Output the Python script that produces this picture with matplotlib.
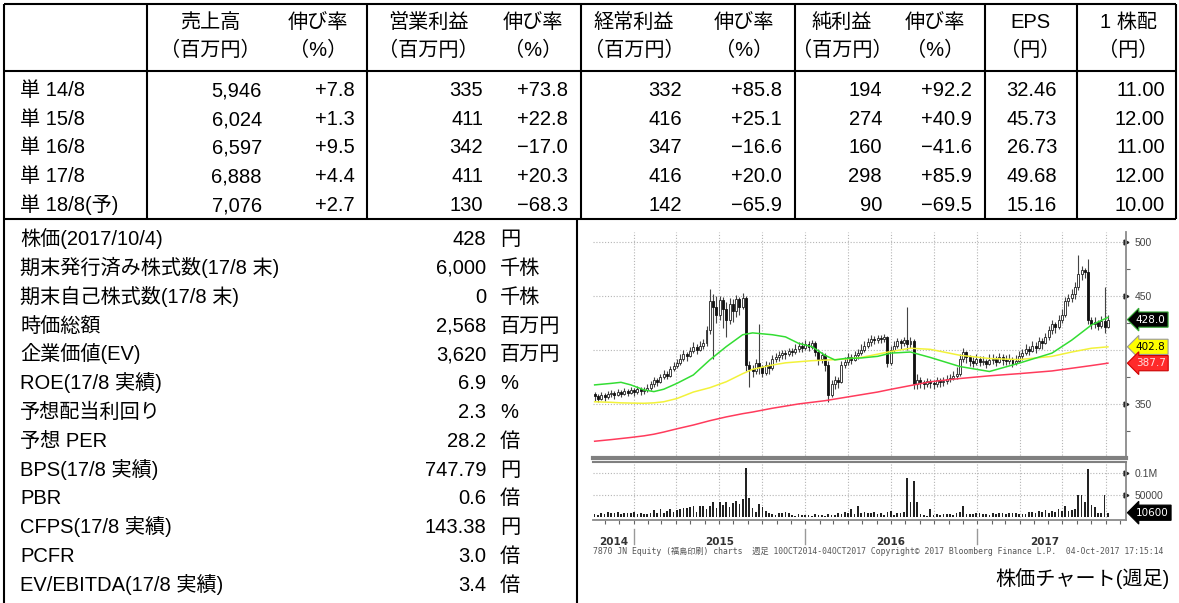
"""福島印刷 業績表 + 株価チャート(週足)"""
import numpy as np
import pandas as pd
import matplotlib
matplotlib.use('Agg')
import matplotlib.pyplot as plt
import matplotlib.dates as mdates

plt.rcParams['font.family'] = ['Liberation Sans', 'Noto Sans CJK JP', 'DejaVu Sans']

# ---- 業績表 ----
periods = ['単 14/8', '単 15/8', '単 16/8', '単 17/8', '単 18/8(予)']
head_top = ['売上高', '伸び率', '営業利益', '伸び率', '経常利益', '伸び率', '純利益', '伸び率', 'EPS', '1 株配']
head_bot = ['（百万円）', '（%）', '（百万円）', '（%）', '（百万円）', '（%）', '（百万円）', '（%）', '（円）', '（円）']
sales = [5946, 6024, 6597, 6888, 7076]
sales_g = [7.8, 1.3, 9.5, 4.4, 2.7]
op_profit = [335, 411, 342, 411, 130]
op_g = [73.8, 22.8, -17.0, 20.3, -68.3]
ord_profit = [332, 416, 347, 416, 142]
ord_g = [85.8, 25.1, -16.6, 20.0, -65.9]
net_profit = [194, 274, 160, 298, 90]
net_g = [92.2, 40.9, -41.6, 85.9, -69.5]
eps = [32.46, 45.73, 26.73, 49.68, 15.16]
dps = [11.00, 12.00, 11.00, 12.00, 10.00]

# ---- 株価指標 ----
items = ['株価(2017/10/4)', '期末発行済み株式数(17/8 末)', '期末自己株式数(17/8 末)', '時価総額',
         '企業価値(EV)', 'ROE(17/8 実績)', '予想配当利回り', '予想 PER', 'BPS(17/8 実績)',
         'PBR', 'CFPS(17/8 実績)', 'PCFR', 'EV/EBITDA(17/8 実績)']
item_vals = ['428', '6,000', '0', '2,568', '3,620', '6.9', '2.3', '28.2', '747.79', '0.6', '143.38', '3.0', '3.4']
item_units = ['円', '千株', '千株', '百万円', '百万円', '%', '%', '倍', '円', '倍', '円', '倍', '倍']

# ---- 週足 (2014/10/10 〜 2017/10/4) ----
first_open = 359
close = [357, 355, 358, 356, 359, 360, 358, 361, 359, 362, 360, 363,
         361, 364, 362, 363, 365,
         368, 372, 370, 375, 378, 376, 382, 385, 388,
         392, 396, 394, 399, 403, 400, 404, 406,
         418, 445,
         440, 432, 446, 438, 428, 442, 436, 447, 440, 448,
         386,
         382, 380, 388, 384,
         379, 386, 383,
         392, 393, 395, 397, 396, 399, 398, 401,
         404, 402, 405, 403, 406,
         398, 392, 395, 386,
         358,
         368, 372, 370,
         386, 389, 393, 391, 395, 397, 400, 404, 407,
         410, 409, 411, 410, 412,
         388,
         400, 404, 408, 406, 409, 405, 408,
         368,
         372, 370, 368, 371, 369, 368, 372, 370, 371, 373, 374, 376, 378,
         392, 398,
         393, 390, 388, 392, 389, 390, 387, 391, 392, 389, 393, 391, 390, 392, 388, 390, 394,
         397, 401, 399, 404, 402, 408, 406, 412,
         418, 424, 421, 428, 432,
         445, 448, 452, 458,
         470, 474, 472,
         428,
         424, 426, 422, 427, 421, 428]
high = [361, 359, 361, 360, 362, 363, 362, 364, 363, 365, 364, 366,
        365, 367, 366, 366, 368,
        371, 375, 374, 378, 381, 380, 385, 389, 392,
        396, 400, 398, 403, 407, 405, 408, 410,
        422, 456,
        452, 450, 450, 449, 444, 448, 447, 451, 449, 453,
        450,
        390, 386, 392, 424,
        386, 390, 389,
        395, 397, 399, 400, 400, 402, 402, 405,
        407, 407, 409, 408, 409,
        408, 401, 398, 397,
        390,
        372, 376, 375,
        390, 393, 397, 396, 399, 401, 405, 408, 411,
        414, 413, 414, 414, 415,
        413,
        404, 408, 411, 410, 412, 440, 412,
        410,
        378, 375, 372, 374, 373, 372, 375, 374, 375, 377, 378, 380, 384,
        396, 402,
        399, 395, 393, 396, 394, 394, 392, 396, 396, 394, 397, 396, 395, 396, 393, 395, 399,
        401, 405, 404, 408, 407, 412, 411, 416,
        422, 428, 426, 432, 438,
        449, 452, 456, 463,
        488, 478, 476,
        484,
        430, 430, 428, 431, 458, 432]
low = [353, 352, 354, 353, 355, 356, 355, 357, 356, 358, 357, 359,
       357, 359, 358, 359, 361,
       363, 366, 367, 369, 373, 373, 375, 380, 383,
       386, 390, 390, 393, 397, 396, 399, 401,
       404, 415,
       392, 425, 428, 420, 412, 424, 426, 430, 432, 438,
       380,
       366, 375, 378, 378,
       375, 377, 378,
       381, 389, 390, 392, 392, 394, 394, 396,
       398, 398, 400, 399, 401,
       394, 386, 388, 380,
       352,
       356, 364, 365,
       369, 383, 386, 387, 390, 392, 395, 398, 402,
       404, 405, 406, 406, 407,
       384,
       386, 398, 402, 401, 404, 400, 402,
       364,
       364, 365, 364, 366, 365, 364, 366, 366, 367, 368, 370, 372, 373,
       376, 389,
       388, 385, 384, 386, 385, 386, 383, 386, 387, 385, 388, 386, 386, 387, 384, 386, 389,
       391, 395, 395, 398, 397, 401, 401, 405,
       409, 415, 416, 419, 425,
       430, 441, 444, 447,
       455, 465, 466,
       424,
       419, 420, 418, 420, 416, 420]
# 出来高(千株)
volume_k = [8, 6, 9, 7, 12, 10, 9, 13, 8, 11, 10, 9, 12, 7, 9, 8, 7, 9, 16, 10,
            19, 11, 14, 18, 12, 17, 20, 22, 21, 24, 26, 12, 25, 27, 18, 26,
            34, 22, 34, 28, 36, 24, 32, 38, 30, 41,
            112,
            45, 22, 12, 30,
            24, 14, 10, 8, 6, 11, 9, 12, 10, 6,
            4, 7, 6, 5, 6, 4, 7, 5, 6, 4, 8, 5,
            6, 9, 7, 12, 9, 18, 8, 27, 10, 12, 9,
            10, 12, 7, 9, 6, 13, 14, 6, 11, 9, 12,
            90, 34, 83, 34,
            7, 5, 3, 20, 6, 7, 6, 7, 8, 7, 6, 9,
            12, 25, 8, 7, 8, 10, 9, 7, 8, 6, 9, 8, 10, 9, 8, 11, 9, 10, 8,
            7, 8, 12, 13, 9, 14, 12, 16, 11, 15, 13, 18, 14,
            25, 15, 16, 18, 50, 50, 34, 109, 28, 24, 10, 9, 52, 10.6]

# 移動平均(読み取り値)
ma_weeks = [0, 5, 8, 11, 15, 18, 21, 25, 30, 35, 40, 45, 48, 54, 58, 62, 66, 70, 73, 76,
            81, 86, 90, 96, 102, 111, 120, 129, 139, 145, 151, 156]
ma_green = [367.6, 369, 370, 367.6, 363, 361.4, 363.6, 369, 376.8, 390.7, 403, 414, 415.7, 414,
            412, 406, 403, 395, 390.7, 392, 392.5, 394, 397, 398, 393, 384.6, 380, 387.7, 397,
            409, 423, 430]
ma_yellow = [352, 351.5, 351, 350.8, 350.6, 351, 352, 355, 361, 365, 370.5, 378, 382, 386, 388,
             389, 390, 390.5, 391, 391.5, 393, 396, 398.5, 401.5, 400.5, 395, 392, 391, 394,
             398, 401.5, 402.8]
ma_red = [315.5, 317, 318, 319, 320.5, 322, 324, 327, 330.5, 334.5, 338, 341, 342.5, 346, 348,
          350, 351.5, 353, 354.5, 356, 358.5, 361, 363.5, 367, 370.5, 373.5, 376, 378, 380.5,
          383, 385.5, 387.7]

W, H = 1179, 603
fig = plt.figure(figsize=(W / 100, H / 100), dpi=100)
base = fig.add_axes([0, 0, 1, 1])
base.set_xlim(0, W)
base.set_ylim(H, 0)
base.axis('off')

LW = 1.5
FS = 14.5
BL = 7.2  # 行中心からベースラインまで(px)
# 罫線
base.hlines([4, 71, 219], 4, 1176, color='black', lw=LW)
base.vlines([4, 147, 367, 581, 795, 985, 1077, 1176], 4, 219, color='black', lw=LW)
base.vlines([4, 577], 219, 603, color='black', lw=LW)

# ヘッダー
head_x = [210, 318, 428, 533, 634, 744, 842, 935, 1030, 1128]
for x, t, b in zip(head_x, head_top, head_bot):
    base.text(x, 21 + BL, t, ha='center', va='baseline', fontsize=FS)
    base.text(x, 49 + BL, b, ha='center', va='baseline', fontsize=FS)


def g(v):
    return f'{v:+.1f}'.replace('-', '−')


cols = [[f'{v:,}' for v in sales], [g(v) for v in sales_g],
        [f'{v:,}' for v in op_profit], [g(v) for v in op_g],
        [f'{v:,}' for v in ord_profit], [g(v) for v in ord_g],
        [f'{v:,}' for v in net_profit], [g(v) for v in net_g],
        [f'{v:.2f}' for v in eps], [f'{v:.2f}' for v in dps]]
col_right = [262, 355, 483, 568, 682, 782, 882, 972, 1057, 1165]
row_y = [89, 118, 146, 175, 204]
for i, p in enumerate(periods):
    base.text(20, row_y[i] + BL, p, ha='left', va='baseline', fontsize=FS)
    for xr, col in zip(col_right, cols):
        base.text(xr, row_y[i] + BL, col[i], ha='right', va='baseline', fontsize=FS)

for i, (lab, v, u) in enumerate(zip(items, item_vals, item_units)):
    y = 238 + 28.8 * i + BL
    base.text(20, y, lab, ha='left', va='baseline', fontsize=FS)
    base.text(486, y, v, ha='right', va='baseline', fontsize=FS)
    base.text(500, y, u, ha='left', va='baseline', fontsize=FS)

# ---- チャート ----
def fx(px):
    return px / W


def fy(py):
    return 1 - py / H


ax = fig.add_axes([fx(593), fy(458), fx(1126) - fx(593), fy(232) - fy(458)])
axv = fig.add_axes([fx(593), fy(520), fx(1126) - fx(593), fy(462) - fy(520)], sharex=ax)

dates = pd.date_range('2014-10-10', periods=len(close), freq='7D')
x = mdates.date2num(dates)
opens = np.r_[first_open, close[:-1]]
c = np.array(close, dtype=float)
up = c >= opens
body_lo = np.minimum(opens, c)
body_h = np.maximum(np.abs(c - opens), 0.8)

ax.vlines(x, low, high, color='#444', lw=0.8, zorder=3)
ax.bar(x[up], body_h[up], bottom=body_lo[up], width=4.2, color='white', edgecolor='#222',
       lw=0.6, zorder=4)
ax.bar(x[~up], body_h[~up], bottom=body_lo[~up], width=4.2, color='#111', edgecolor='#111',
       lw=0.6, zorder=4)

xm = x[ma_weeks]
ax.plot(xm, ma_red, color='#ff3b5c', lw=1.1, zorder=5)
ax.plot(xm, ma_yellow, color='#f2f23a', lw=1.1, zorder=5)
ax.plot(xm, ma_green, color='#33dd33', lw=1.1, zorder=5)

ax.set_xlim(x[0] - 3.5, x[0] + 161.5 * 7)
ax.set_ylim(300, 509)
ax.xaxis.set_major_locator(mdates.MonthLocator(bymonth=[1, 4, 7, 10]))
ax.xaxis.set_minor_locator(mdates.MonthLocator())
ax.set_yticks([350, 400, 450, 500])
ax.set_yticks([325, 375, 425, 475], minor=True)
ax.yaxis.tick_right()
ax.set_yticklabels(['350', '', '450', '500'])
grid_kw = dict(color='#b5b5b5', lw=0.8, linestyle=(0, (1, 1.6)))
ax.grid(True, which='major', **grid_kw)
ax.tick_params(axis='x', which='both', length=0, labelbottom=False)
ax.tick_params(axis='y', which='major', length=0, pad=6, labelsize=7.5, labelcolor='#444')
ax.tick_params(axis='y', which='minor', length=3, color='#666', width=0.8)
for s in ['top', 'left']:
    ax.spines[s].set_visible(False)
ax.spines['right'].set_color('#8a8a8a')
ax.spines['right'].set_linewidth(1.3)
ax.spines['bottom'].set_color('#808080')
ax.spines['bottom'].set_linewidth(3)
ax.plot(np.ones(3), [350, 450, 500], transform=ax.get_yaxis_transform(), ls='none',
        marker='>', ms=3.5, color='#222', clip_on=False)

tags = [('428.0', 428, 'black', 'white', '#3a3'),
        ('402.8', 402.8, '#ffff00', 'black', '#999'),
        ('387.7', 387.7, '#ff2a2a', '#ffe0e0', '#c00')]
for txt, v, fc, tc, ec in tags:
    ax.annotate(txt, xy=(1, v), xycoords=ax.get_yaxis_transform(), xytext=(7, 0),
                textcoords='offset points', ha='left', va='center', fontsize=7.5, color=tc,
                family='DejaVu Sans', annotation_clip=False,
                bbox=dict(boxstyle='larrow,pad=0.25', fc=fc, ec=ec, lw=0.8))

# 出来高
axv.bar(x, volume_k, width=3.6, color='#222', zorder=3)
axv.set_ylim(-6, 126)
axv.set_yticks([50, 100])
axv.yaxis.tick_right()
axv.set_yticklabels(['50000', '0.1M'])
axv.grid(True, which='major', **grid_kw)
axv.tick_params(axis='y', length=0, pad=6, labelsize=7.5, labelcolor='#444')
axv.tick_params(axis='x', which='both', length=3, color='#666', width=0.8, labelbottom=False)
axv.spines['left'].set_visible(False)
axv.spines['top'].set_color('#808080')
axv.spines['top'].set_linewidth(1.5)
for s in ['right', 'bottom']:
    axv.spines[s].set_color('#8a8a8a')
    axv.spines[s].set_linewidth(1.3)
axv.plot(np.ones(2), [50, 100], transform=axv.get_yaxis_transform(), ls='none',
         marker='>', ms=3.5, color='#222', clip_on=False)
axv.annotate('10600', xy=(1, volume_k[-1]), xycoords=axv.get_yaxis_transform(), xytext=(7, 0),
             textcoords='offset points', ha='left', va='center', fontsize=7.5, color='white',
             family='DejaVu Sans', annotation_clip=False,
             bbox=dict(boxstyle='larrow,pad=0.25', fc='black', ec='black', lw=0.8))

year_labels = ['2014', '2015', '2016', '2017']
year_pos = ['2014-11-20', '2015-07-02', '2016-07-01', '2017-05-24']
year_sep = ['2015-01-01', '2016-01-01', '2017-01-01']
xt = axv.get_xaxis_transform()
for lab, d in zip(year_labels, year_pos):
    axv.text(mdates.datestr2num(d), -0.3, lab, transform=xt, ha='center', va='top',
             fontsize=7.5, color='#333', family='DejaVu Sans', fontweight='bold')
for d in year_sep:
    xd = mdates.datestr2num(d)
    axv.plot([xd, xd], [-0.15, -0.42], transform=xt, color='#999', lw=1, clip_on=False)

base.text(593, 551, '7870 JN Equity (福島印刷) charts  週足 10OCT2014-04OCT2017 '
          'Copyright© 2017 Bloomberg Finance L.P.  04-Oct-2017 17:15:14',
          ha='left', va='center', fontsize=5.9, color='#555',
          family=['DejaVu Sans Mono', 'Noto Sans CJK JP'])
base.text(1170, 578 + BL, '株価チャート(週足)', ha='right', va='baseline', fontsize=FS)

fig.savefig('out.png', dpi=100)
